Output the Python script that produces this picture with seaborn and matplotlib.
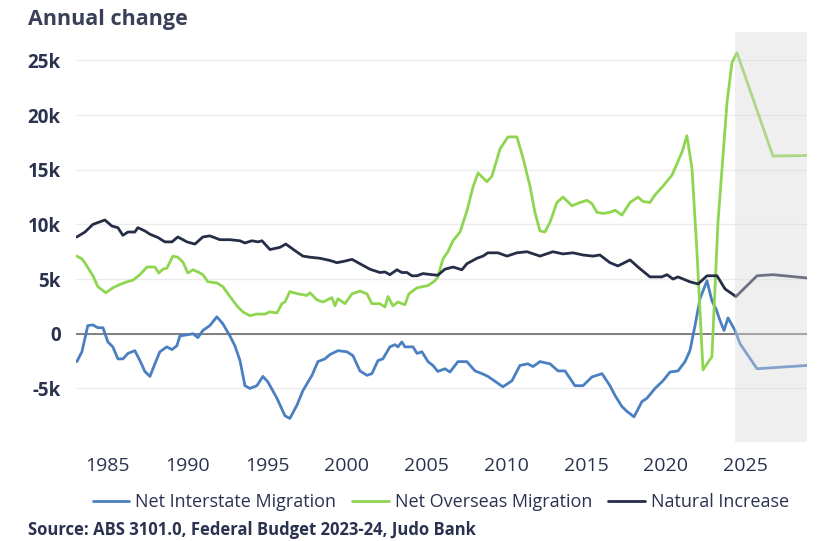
import matplotlib
matplotlib.use("Agg")
import matplotlib.pyplot as plt
import seaborn as sns
import pandas as pd

# values in thousands of persons, x in decimal years
nim_years = [1983.05, 1983.37, 1983.74, 1984.06, 1984.37, 1984.69, 1985.00, 1985.31, 1985.63, 1985.94,
             1986.26, 1986.69, 1987.01, 1987.32, 1987.64, 1987.95, 1988.26, 1988.70, 1989.02, 1989.33,
             1989.52, 1989.96, 1990.34, 1990.65, 1990.96, 1991.40, 1991.84, 1992.22, 1992.66, 1992.97,
             1993.29, 1993.60, 1993.91, 1994.35, 1994.73, 1995.04, 1995.61, 1996.11, 1996.42, 1996.86,
             1997.24, 1997.81, 1998.18, 1998.62, 1998.94, 1999.44, 2000.00, 2000.38, 2000.82, 2001.26,
             2001.57, 2001.95, 2002.26, 2002.70, 2003.02, 2003.20, 2003.45, 2003.64, 2004.15, 2004.40,
             2004.71, 2005.09, 2005.40, 2005.71, 2006.15, 2006.47, 2006.97, 2007.53, 2008.04, 2008.48,
             2008.85, 2009.79, 2010.36, 2010.86, 2011.36, 2011.68, 2012.12, 2012.75, 2013.25, 2013.69,
             2014.31, 2014.82, 2015.38, 2016.01, 2016.51, 2016.83, 2017.26, 2017.58, 2018.02, 2018.52,
             2018.83, 2019.34, 2019.84, 2020.28, 2020.78, 2021.22, 2021.53, 2021.85, 2022.16, 2022.60,
             2022.91, 2023.16, 2023.42, 2023.67, 2023.92, 2024.36, 2024.67, 2025.74, 2028.88]
nim_vals = [-2.55, -1.65, 0.75, 0.8, 0.55, 0.55, -0.75, -1.2, -2.3, -2.3,
            -1.8, -1.55, -2.45, -3.45, -3.9, -2.75, -1.65, -1.2, -1.45, -1.1,
            -0.2, -0.1, 0.0, -0.35, 0.3, 0.75, 1.55, 0.9, -0.2, -1.1,
            -2.45, -4.75, -5.0, -4.75, -3.9, -4.4, -5.9, -7.5, -7.75, -6.55,
            -5.2, -3.8, -2.55, -2.3, -1.9, -1.55, -1.65, -2.0, -3.4, -3.8,
            -3.65, -2.45, -2.3, -1.2, -1.0, -1.2, -0.75, -1.2, -1.2, -1.8,
            -1.65, -2.55, -2.9, -3.45, -3.2, -3.5, -2.55, -2.55, -3.4, -3.65,
            -3.9, -4.85, -4.3, -2.9, -2.75, -3.0, -2.55, -2.75, -3.4, -3.4,
            -4.75, -4.75, -3.95, -3.65, -4.75, -5.65, -6.65, -7.1, -7.6, -6.2,
            -5.9, -5.0, -4.3, -3.5, -3.4, -2.55, -1.55, 0.75, 3.2, 4.85,
            3.0, 2.3, 1.2, 0.3, 1.45, 0.3, -0.9, -3.2, -2.9]

nom_years = [1983.05, 1983.37, 1983.68, 1984.06, 1984.37, 1984.87, 1985.31, 1985.75, 1986.19, 1986.57,
             1987.01, 1987.45, 1987.95, 1988.20, 1988.45, 1988.70, 1989.08, 1989.39, 1989.71, 1990.02,
             1990.34, 1990.65, 1990.96, 1991.28, 1991.84, 1992.22, 1992.66, 1993.10, 1993.47, 1993.91,
             1994.35, 1994.86, 1995.17, 1995.61, 1995.92, 1996.11, 1996.42, 1996.93, 1997.49, 1997.68,
             1998.12, 1998.50, 1999.06, 1999.25, 1999.44, 1999.88, 2000.32, 2000.82, 2001.26, 2001.57,
             2002.07, 2002.39, 2002.58, 2002.89, 2003.20, 2003.64, 2003.89, 2004.40, 2005.09, 2005.53,
             2005.71, 2006.03, 2006.34, 2006.66, 2007.10, 2007.53, 2007.91, 2008.23, 2008.79, 2009.10,
             2009.61, 2010.11, 2010.67, 2011.05, 2011.49, 2011.80, 2012.12, 2012.43, 2012.75, 2013.18,
             2013.56, 2014.13, 2014.63, 2015.07, 2015.38, 2015.70, 2016.07, 2016.51, 2016.83, 2017.26,
             2017.77, 2018.27, 2018.58, 2019.02, 2019.34, 2019.84, 2020.40, 2021.03, 2021.34, 2021.66,
             2021.97, 2022.35, 2022.91, 2023.29, 2023.86, 2024.17, 2024.48, 2026.74, 2028.88]
nom_vals = [7.1, 6.85, 6.2, 5.3, 4.3, 3.75, 4.2, 4.5, 4.75, 4.9,
            5.4, 6.1, 6.1, 5.55, 5.9, 6.0, 7.1, 7.0, 6.55, 5.55,
            5.85, 5.65, 5.4, 4.75, 4.65, 4.3, 3.4, 2.55, 2.0, 1.65,
            1.8, 1.8, 2.0, 1.9, 2.75, 2.9, 3.85, 3.65, 3.5, 3.75,
            3.1, 2.9, 3.3, 2.55, 3.2, 2.75, 3.65, 3.9, 3.65, 2.75,
            2.75, 2.45, 3.4, 2.55, 2.9, 2.65, 3.65, 4.2, 4.4, 4.85,
            5.2, 6.85, 7.5, 8.5, 9.3, 11.2, 13.4, 14.7, 13.9, 14.4,
            16.9, 18.0, 18.0, 16.1, 13.5, 11.1, 9.4, 9.3, 10.2, 12.0,
            12.5, 11.7, 12.0, 12.2, 11.9, 11.1, 11.0, 11.1, 11.3, 10.85,
            12.0, 12.5, 12.1, 12.0, 12.7, 13.5, 14.5, 16.6, 18.1, 15.1,
            7.5, -3.3, -2.1, 10.2, 21.2, 24.8, 25.7, 16.25, 16.3]

ni_years = [1983.05, 1983.56, 1984.06, 1984.81, 1985.25, 1985.63, 1985.94, 1986.26, 1986.69, 1986.88,
            1987.32, 1987.64, 1988.14, 1988.58, 1989.02, 1989.39, 1989.96, 1990.46, 1990.96, 1991.40,
            1992.03, 1992.66, 1993.29, 1993.60, 1994.04, 1994.42, 1994.67, 1995.17, 1995.80, 1996.17,
            1996.74, 1997.24, 1997.68, 1998.31, 1998.94, 1999.37, 1999.75, 2000.32, 2000.82, 2001.45,
            2002.07, 2002.39, 2002.70, 2003.14, 2003.45, 2003.77, 2004.08, 2004.40, 2004.77, 2005.34,
            2005.71, 2006.15, 2006.66, 2007.22, 2007.53, 2008.16, 2008.54, 2008.85, 2009.48, 2010.05,
            2010.67, 2011.30, 2012.12, 2012.93, 2013.56, 2014.19, 2014.82, 2015.44, 2015.88, 2016.51,
            2017.01, 2017.77, 2018.27, 2019.02, 2019.77, 2020.09, 2020.47, 2020.78, 2021.53, 2022.04,
            2022.60, 2023.23, 2023.73, 2024.42, 2025.74, 2026.74, 2028.88]
ni_vals = [8.85, 9.3, 10.0, 10.4, 9.85, 9.7, 9.0, 9.3, 9.3, 9.7,
           9.4, 9.1, 8.8, 8.4, 8.4, 8.85, 8.4, 8.2, 8.85, 8.95,
           8.6, 8.6, 8.5, 8.3, 8.5, 8.4, 8.5, 7.7, 7.9, 8.2,
           7.6, 7.1, 7.0, 6.9, 6.7, 6.5, 6.6, 6.8, 6.4, 5.9,
           5.6, 5.65, 5.4, 5.85, 5.6, 5.6, 5.3, 5.3, 5.5, 5.4,
           5.35, 5.9, 6.1, 5.85, 6.4, 6.9, 7.1, 7.4, 7.4, 7.1,
           7.4, 7.5, 7.1, 7.5, 7.3, 7.4, 7.2, 7.1, 7.2, 6.5,
           6.2, 6.75, 6.1, 5.2, 5.2, 5.4, 5.0, 5.2, 4.75, 4.55,
           5.3, 5.3, 4.1, 3.4, 5.3, 5.4, 5.1]

series_names = ["Net Interstate Migration", "Net Overseas Migration", "Natural Increase"]
colors = ["#4a7fc1", "#8fd650", "#262d47"]
x_ticks = [1985, 1990, 1995, 2000, 2005, 2010, 2015, 2020, 2025]
y_ticks = [-5, 0, 5, 10, 15, 20, 25]
forecast_start = 2024.36

df = pd.concat([
    pd.DataFrame({"year": nim_years, "value": nim_vals, "series": series_names[0]}),
    pd.DataFrame({"year": nom_years, "value": nom_vals, "series": series_names[1]}),
    pd.DataFrame({"year": ni_years, "value": ni_vals, "series": series_names[2]}),
])

sns.set_theme(style="white")
plt.rcParams["font.family"] = ["Open Sans", "DejaVu Sans"]
text_col = "#2b3250"

fig = plt.figure(figsize=(8.21, 5.41), dpi=100)
ax = fig.add_axes([0.0926, 0.183, 0.8904, 0.758])

sns.lineplot(data=df, x="year", y="value", hue="series", hue_order=series_names,
             palette=dict(zip(series_names, colors)), estimator=None, sort=True,
             linewidth=2, ax=ax, zorder=3)

ax.set_xlim(1983.0, 2028.88)
ax.set_ylim(-9.9, 27.6)
ax.axvspan(forecast_start, 2028.88, color="#d9d9d9", alpha=0.4, lw=0, zorder=5)
ax.axhline(0, color="#6b6b6b", lw=1.2, zorder=2)
ax.yaxis.grid(True, color="#ebebeb", lw=1)
ax.set_axisbelow(True)
for s in ax.spines.values():
    s.set_visible(False)

ax.set_xticks(x_ticks)
ax.set_xticklabels([str(t) for t in x_ticks], fontsize=14, color=text_col)
ax.set_yticks(y_ticks)
ax.set_yticklabels([("0" if t == 0 else f"{t}k") for t in y_ticks],
                   fontsize=13.5, fontweight="bold", color=text_col)
ax.tick_params(axis="both", length=0)
ax.tick_params(axis="y", pad=11)
ax.tick_params(axis="x", pad=11)
ax.set_xlabel("")
ax.set_ylabel("")

handles, labels = ax.get_legend_handles_labels()
ax.get_legend().remove()
fig.legend(handles, labels, loc="center", bbox_to_anchor=(0.537, 0.072), ncol=3,
           frameon=False, fontsize=13, handlelength=2.0, handletextpad=0.35,
           columnspacing=0.9, labelcolor=text_col)

fig.text(28 / 821, 1 - 19 / 541, "Annual change", ha="left", va="center",
         fontsize=15.5, fontweight="bold", color="#3a4057")
fig.text(28 / 821, 1 - 530 / 541, "Source: ABS 3101.0, Federal Budget 2023-24, Judo Bank",
         ha="left", va="center", fontsize=12, fontweight="bold", color=text_col)

fig.savefig("out.png", dpi=100)
